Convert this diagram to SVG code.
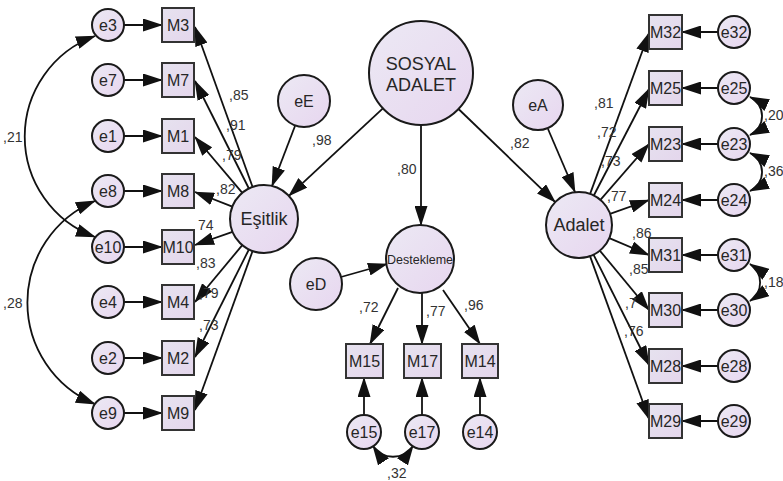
<svg xmlns="http://www.w3.org/2000/svg" width="783" height="481" viewBox="0 0 783 481">
<defs>
<linearGradient id="g" x1="0" y1="0" x2="1" y2="1">
<stop offset="0" stop-color="#ece9f4"/>
<stop offset="1" stop-color="#e7d6ef"/>
</linearGradient>
<linearGradient id="gb" x1="0" y1="0" x2="1" y2="1">
<stop offset="0" stop-color="#e6e2ef"/>
<stop offset="1" stop-color="#e4d6ec"/>
</linearGradient>
<marker id="a" markerUnits="userSpaceOnUse" markerWidth="20" markerHeight="13" refX="19" refY="6.5" orient="auto-start-reverse" viewBox="0 0 20 13">
<path d="M0,0 L20,6.5 L0,13 z" fill="#111"/>
</marker>
<style>
.n{fill:url(#g);stroke:#1a1a1a;stroke-width:2}
.b{fill:url(#gb);stroke:#333;stroke-width:2}
.t{font-family:"Liberation Sans",Arial,sans-serif;font-size:16px;fill:#262626;text-anchor:middle}
.big{font-size:18px}
.sm{font-size:12.5px}
.l{font-family:"Liberation Sans",Arial,sans-serif;font-size:14px;fill:#333333}
#edges line,#edges path{stroke:#111;stroke-width:1.8;fill:none;marker-end:url(#a)}
#edges path.cov{marker-start:url(#a)}
</style>
</defs>
<rect width="783" height="481" fill="#fff"/>

<g id="edges">
<line x1="124" y1="25" x2="162" y2="25"/>
<line x1="124" y1="80" x2="162" y2="80"/>
<line x1="124" y1="136" x2="162" y2="136"/>
<line x1="124" y1="191" x2="162" y2="191"/>
<line x1="124" y1="247" x2="162" y2="247"/>
<line x1="124" y1="302" x2="162" y2="302"/>
<line x1="124" y1="358" x2="162" y2="358"/>
<line x1="124" y1="413" x2="162" y2="413"/>
<line x1="252.6" y1="187" x2="195" y2="27"/>
<line x1="248.9" y1="188.5" x2="195" y2="81"/>
<line x1="242.3" y1="192.9" x2="195" y2="137"/>
<line x1="232.3" y1="206.6" x2="195" y2="192"/>
<line x1="232.5" y1="231.8" x2="195" y2="245"/>
<line x1="242.3" y1="245.1" x2="195" y2="302"/>
<line x1="248.9" y1="249.5" x2="195" y2="357"/>
<line x1="252.6" y1="251" x2="195" y2="410"/>
<line x1="295" y1="126" x2="272" y2="186"/>
<line x1="382.9" y1="108.4" x2="288.9" y2="195.8"/>
<line x1="421" y1="125" x2="421" y2="225"/>
<line x1="458.5" y1="109" x2="555.2" y2="202.1"/>
<line x1="548" y1="129" x2="575" y2="192"/>
<line x1="341" y1="277" x2="387" y2="264"/>
<line x1="590.1" y1="193.9" x2="649" y2="33"/>
<line x1="593.8" y1="195.5" x2="649" y2="89"/>
<line x1="600.4" y1="199.9" x2="649" y2="144"/>
<line x1="610" y1="213.8" x2="649" y2="200"/>
<line x1="609.3" y1="238.2" x2="649" y2="255"/>
<line x1="599.8" y1="250.6" x2="649" y2="310"/>
<line x1="593.5" y1="254.6" x2="649" y2="365"/>
<line x1="590" y1="256.1" x2="649" y2="419"/>
<line x1="718" y1="32" x2="682" y2="32"/>
<line x1="718" y1="88" x2="682" y2="88"/>
<line x1="718" y1="144" x2="682" y2="144"/>
<line x1="718" y1="200" x2="682" y2="200"/>
<line x1="718" y1="255" x2="682" y2="255"/>
<line x1="718" y1="310" x2="682" y2="310"/>
<line x1="718" y1="366" x2="682" y2="366"/>
<line x1="718" y1="421" x2="682" y2="421"/>
<line x1="398" y1="288" x2="370" y2="344"/>
<line x1="422" y1="293" x2="422" y2="344"/>
<line x1="443" y1="290" x2="480" y2="344"/>
<line x1="364" y1="415" x2="364" y2="378"/>
<line x1="422" y1="415" x2="422" y2="378"/>
<line x1="480" y1="415" x2="480" y2="378"/>
<path class="cov" d="M95,36 A107,107 0 0 0 95,237"/>
<path class="cov" d="M95,201 A110,110 0 0 0 95,404"/>
<path class="cov" d="M750,97 A21,21 0 0 1 750,135"/>
<path class="cov" d="M750,153 A21,21 0 0 1 750,191"/>
<path class="cov" d="M750,264 A22,22 0 0 1 750,301"/>
<path class="cov" d="M373,446 A24,24 0 0 0 413,446"/>
</g>

<g id="e3"><circle class="n" cx="108" cy="25" r="16"/><text class="t" x="108" y="30.7">e3</text></g>
<g id="e7"><circle class="n" cx="108" cy="80" r="16"/><text class="t" x="108" y="85.7">e7</text></g>
<g id="e1"><circle class="n" cx="108" cy="136" r="16"/><text class="t" x="108" y="141.7">e1</text></g>
<g id="e8"><circle class="n" cx="108" cy="191" r="16"/><text class="t" x="108" y="196.7">e8</text></g>
<g id="e10"><circle class="n" cx="108" cy="247" r="16"/><text class="t" x="108" y="252.7">e10</text></g>
<g id="e4"><circle class="n" cx="108" cy="302" r="16"/><text class="t" x="108" y="307.7">e4</text></g>
<g id="e2"><circle class="n" cx="108" cy="358" r="16"/><text class="t" x="108" y="363.7">e2</text></g>
<g id="e9"><circle class="n" cx="108" cy="413" r="16"/><text class="t" x="108" y="418.7">e9</text></g>

<g id="M3"><rect class="b" x="162" y="8" width="32" height="34"/><text class="t" x="178" y="30.7">M3</text></g>
<g id="M7"><rect class="b" x="162" y="63" width="32" height="34"/><text class="t" x="178" y="85.7">M7</text></g>
<g id="M1"><rect class="b" x="162" y="119" width="32" height="34"/><text class="t" x="178" y="141.7">M1</text></g>
<g id="M8"><rect class="b" x="162" y="174" width="32" height="34"/><text class="t" x="178" y="196.7">M8</text></g>
<g id="M10"><rect class="b" x="162" y="230" width="32" height="34"/><text class="t" x="178" y="252.7">M10</text></g>
<g id="M4"><rect class="b" x="162" y="285" width="32" height="34"/><text class="t" x="178" y="307.7">M4</text></g>
<g id="M2"><rect class="b" x="162" y="341" width="32" height="34"/><text class="t" x="178" y="363.7">M2</text></g>
<g id="M9"><rect class="b" x="162" y="396" width="32" height="34"/><text class="t" x="178" y="418.7">M9</text></g>

<g id="Esitlik"><circle class="n" cx="264" cy="219" r="34"/><text class="t big" x="264" y="225.3">Eşitlik</text></g>
<g id="eE"><circle class="n" cx="304" cy="101" r="26"/><text class="t" x="304" y="106.7">eE</text></g>

<g id="SosyalAdalet"><circle class="n" cx="421" cy="73" r="52"/><text class="t big" x="421" y="70">SOSYAL</text><text class="t big" x="421" y="91">ADALET</text></g>
<g id="Destekleme"><circle class="n" cx="420" cy="259" r="34"/><text class="t sm" x="420" y="263.5">Destekleme</text></g>
<g id="eD"><circle class="n" cx="316" cy="284" r="26"/><text class="t" x="316" y="289.7">eD</text></g>
<g id="M15"><rect class="b" x="346" y="344" width="37" height="34"/><text class="t" x="364.5" y="366.7">M15</text></g>
<g id="M17"><rect class="b" x="404" y="344" width="37" height="34"/><text class="t" x="422.5" y="366.7">M17</text></g>
<g id="M14"><rect class="b" x="462" y="344" width="36" height="34"/><text class="t" x="480" y="366.7">M14</text></g>
<g id="e15"><circle class="n" cx="364" cy="432" r="17"/><text class="t" x="364" y="437.7">e15</text></g>
<g id="e17"><circle class="n" cx="422" cy="432" r="17"/><text class="t" x="422" y="437.7">e17</text></g>
<g id="e14"><circle class="n" cx="480" cy="432" r="17"/><text class="t" x="480" y="437.7">e14</text></g>

<g id="Adalet"><circle class="n" cx="579" cy="225" r="33"/><text class="t big" x="579" y="231.3">Adalet</text></g>
<g id="eA"><circle class="n" cx="538" cy="105" r="25"/><text class="t" x="538" y="110.7">eA</text></g>

<g id="M32"><rect class="b" x="649" y="15" width="33" height="34"/><text class="t" x="665.5" y="37.7">M32</text></g>
<g id="M25"><rect class="b" x="649" y="71" width="33" height="34"/><text class="t" x="665.5" y="93.7">M25</text></g>
<g id="M23"><rect class="b" x="649" y="127" width="33" height="34"/><text class="t" x="665.5" y="149.7">M23</text></g>
<g id="M24"><rect class="b" x="649" y="183" width="33" height="34"/><text class="t" x="665.5" y="205.7">M24</text></g>
<g id="M31"><rect class="b" x="649" y="238" width="33" height="34"/><text class="t" x="665.5" y="260.7">M31</text></g>
<g id="M30"><rect class="b" x="649" y="293" width="33" height="34"/><text class="t" x="665.5" y="315.7">M30</text></g>
<g id="M28"><rect class="b" x="649" y="349" width="33" height="34"/><text class="t" x="665.5" y="371.7">M28</text></g>
<g id="M29"><rect class="b" x="649" y="404" width="33" height="34"/><text class="t" x="665.5" y="426.7">M29</text></g>

<g id="e32"><circle class="n" cx="734" cy="32" r="16"/><text class="t" x="734" y="37.7">e32</text></g>
<g id="e25"><circle class="n" cx="734" cy="88" r="16"/><text class="t" x="734" y="93.7">e25</text></g>
<g id="e23"><circle class="n" cx="734" cy="144" r="16"/><text class="t" x="734" y="149.7">e23</text></g>
<g id="e24"><circle class="n" cx="734" cy="200" r="16"/><text class="t" x="734" y="205.7">e24</text></g>
<g id="e31"><circle class="n" cx="734" cy="255" r="16"/><text class="t" x="734" y="260.7">e31</text></g>
<g id="e30"><circle class="n" cx="734" cy="310" r="16"/><text class="t" x="734" y="315.7">e30</text></g>
<g id="e28"><circle class="n" cx="734" cy="366" r="16"/><text class="t" x="734" y="371.7">e28</text></g>
<g id="e29"><circle class="n" cx="734" cy="421" r="16"/><text class="t" x="734" y="426.7">e29</text></g>

<g id="labels" class="l">
<text x="3" y="142">,21</text>
<text x="3" y="308">,28</text>
<text x="229" y="100">,85</text>
<text x="226" y="130">,91</text>
<text x="222" y="160">,79</text>
<text x="216" y="194">,82</text>
<text x="198" y="230">74</text>
<text x="196" y="268">,83</text>
<text x="199" y="298">,79</text>
<text x="199" y="330">,73</text>
<text x="312" y="145">,98</text>
<text x="397" y="174">,80</text>
<text x="510" y="148">,82</text>
<text x="359" y="312">,72</text>
<text x="426" y="316">,77</text>
<text x="464" y="310">,96</text>
<text x="387" y="478">,32</text>
<text x="594" y="108">,81</text>
<text x="597" y="137">,72</text>
<text x="601" y="166">,73</text>
<text x="607" y="201">,77</text>
<text x="632" y="238">,86</text>
<text x="629" y="274">,85</text>
<text x="625" y="308">,7</text>
<text x="624" y="336">,76</text>
<text x="764" y="120">,20</text>
<text x="764" y="176">,36</text>
<text x="764" y="287">,18</text>
</g>
</svg>
